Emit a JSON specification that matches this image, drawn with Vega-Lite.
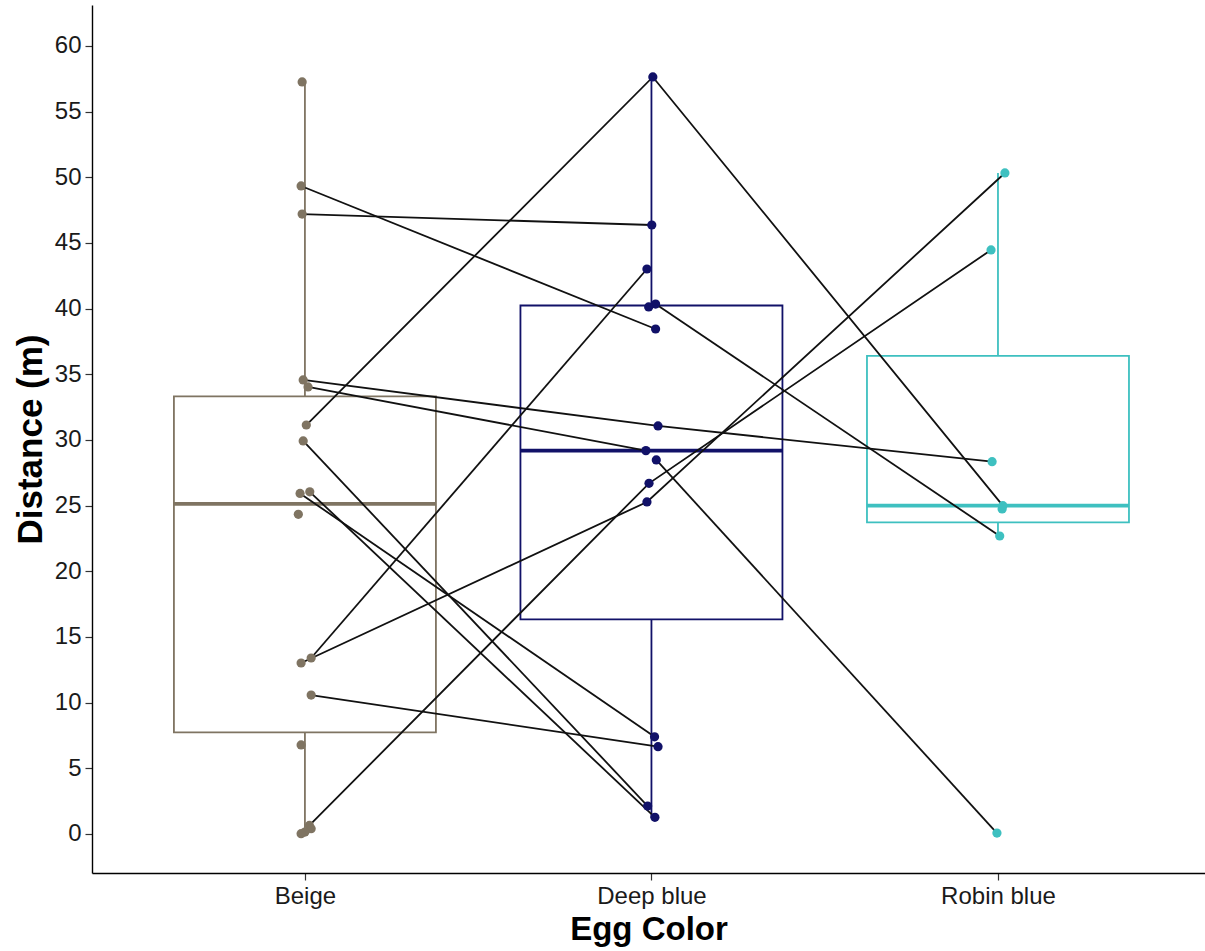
{
  "$schema": "https://vega.github.io/schema/vega-lite/v6.json",
  "width": 1113,
  "height": 868,
  "autosize": "none",
  "padding": {"left": 92, "top": 5, "right": 0, "bottom": 78},
  "background": "white",
  "config": {
    "view": {"stroke": null},
    "font": "Liberation Sans",
    "axis": {
      "grid": false,
      "domainColor": "#000000",
      "domainWidth": 1.4,
      "tickColor": "#333333",
      "tickWidth": 1.2,
      "tickSize": 7,
      "labelFont": "Liberation Sans",
      "labelFontSize": 24,
      "labelColor": "#1a1a1a",
      "labelPadding": 4,
      "titleFont": "Liberation Sans",
      "titleFontSize": 33,
      "titleFontWeight": "bold",
      "titleColor": "#000000"
    }
  },
  "data": {
    "values": [
      {"egg": "Beige", "nest": null, "jit": -0.008, "dist": 57.26},
      {"egg": "Beige", "nest": "n1", "jit": -0.011, "dist": 49.34},
      {"egg": "Beige", "nest": "n2", "jit": -0.008, "dist": 47.2},
      {"egg": "Beige", "nest": "n3", "jit": -0.005, "dist": 34.57},
      {"egg": "Beige", "nest": "n4", "jit": 0.009, "dist": 34.04},
      {"egg": "Beige", "nest": "n5", "jit": 0.004, "dist": 31.14},
      {"egg": "Beige", "nest": "n6", "jit": -0.005, "dist": 29.93},
      {"egg": "Beige", "nest": "n7", "jit": -0.014, "dist": 25.93},
      {"egg": "Beige", "nest": "n8", "jit": 0.014, "dist": 26.05},
      {"egg": "Beige", "nest": null, "jit": -0.019, "dist": 24.34},
      {"egg": "Beige", "nest": "n9", "jit": 0.018, "dist": 13.4},
      {"egg": "Beige", "nest": "n10", "jit": -0.011, "dist": 13.02},
      {"egg": "Beige", "nest": "n11", "jit": 0.018, "dist": 10.58},
      {"egg": "Beige", "nest": null, "jit": -0.011, "dist": 6.78},
      {"egg": "Beige", "nest": "n12", "jit": 0.013, "dist": 0.65},
      {"egg": "Beige", "nest": null, "jit": 0.018, "dist": 0.4},
      {"egg": "Beige", "nest": null, "jit": 0.0, "dist": 0.15},
      {"egg": "Beige", "nest": null, "jit": -0.011, "dist": 0.02},
      {"egg": "Deep blue", "nest": "n5", "jit": 0.004, "dist": 57.64},
      {"egg": "Deep blue", "nest": "n2", "jit": 0.001, "dist": 46.37},
      {"egg": "Deep blue", "nest": "n9", "jit": -0.013, "dist": 43.02},
      {"egg": "Deep blue", "nest": "n13", "jit": 0.012, "dist": 40.35},
      {"egg": "Deep blue", "nest": null, "jit": -0.008, "dist": 40.13},
      {"egg": "Deep blue", "nest": "n1", "jit": 0.012, "dist": 38.45},
      {"egg": "Deep blue", "nest": "n3", "jit": 0.019, "dist": 31.07},
      {"egg": "Deep blue", "nest": "n4", "jit": -0.016, "dist": 29.19},
      {"egg": "Deep blue", "nest": "n14", "jit": 0.014, "dist": 28.48},
      {"egg": "Deep blue", "nest": "n12", "jit": -0.007, "dist": 26.7},
      {"egg": "Deep blue", "nest": "n10", "jit": -0.013, "dist": 25.28},
      {"egg": "Deep blue", "nest": "n7", "jit": 0.009, "dist": 7.4},
      {"egg": "Deep blue", "nest": "n11", "jit": 0.019, "dist": 6.65},
      {"egg": "Deep blue", "nest": "n6", "jit": -0.011, "dist": 2.13},
      {"egg": "Deep blue", "nest": "n8", "jit": 0.01, "dist": 1.27},
      {"egg": "Robin blue", "nest": "n10", "jit": 0.02, "dist": 50.33},
      {"egg": "Robin blue", "nest": "n12", "jit": -0.02, "dist": 44.47},
      {"egg": "Robin blue", "nest": "n3", "jit": -0.017, "dist": 28.35},
      {"egg": "Robin blue", "nest": "n5", "jit": 0.014, "dist": 25.0},
      {"egg": "Robin blue", "nest": null, "jit": 0.012, "dist": 24.75},
      {"egg": "Robin blue", "nest": "n13", "jit": 0.005, "dist": 22.69},
      {"egg": "Robin blue", "nest": "n14", "jit": -0.003, "dist": 0.07}
    ]
  },
  "transform": [
    {"calculate": "indexof(['Beige','Deep blue','Robin blue'], datum.egg) + 1", "as": "ci"},
    {"calculate": "datum.ci + datum.jit", "as": "xp"}
  ],
  "layer": [
    {
      "transform": [
        {"joinaggregate": [{"op": "q1", "field": "dist", "as": "q1"}, {"op": "q3", "field": "dist", "as": "q3"}], "groupby": ["egg"]},
        {"filter": "datum.dist >= datum.q1 - 1.5 * (datum.q3 - datum.q1) && datum.dist <= datum.q3 + 1.5 * (datum.q3 - datum.q1)"},
        {"aggregate": [
          {"op": "min", "field": "dist", "as": "wlo"},
          {"op": "max", "field": "dist", "as": "whi"},
          {"op": "max", "field": "q1", "as": "q1"},
          {"op": "max", "field": "q3", "as": "q3"}
        ], "groupby": ["egg", "ci"]}
      ],
      "layer": [
        {
          "mark": {"type": "rule", "strokeWidth": 1.8},
          "encoding": {
            "x": {
              "field": "ci", "type": "quantitative",
              "scale": {"domain": [0.4, 3.583], "nice": false, "zero": false},
              "axis": {
                "title": "Egg Color",
                "values": [1, 2, 3],
                "labelExpr": "datum.value == 1 ? 'Beige' : datum.value == 2 ? 'Deep blue' : 'Robin blue'",
                "titlePadding": 5
              }
            },
            "y": {
              "field": "wlo", "type": "quantitative",
              "scale": {"domain": [-2.97, 63.12], "nice": false, "zero": false},
              "axis": {
                "title": "Distance (m)",
                "titleFontSize": 35,
                "values": [0, 5, 10, 15, 20, 25, 30, 35, 40, 45, 50, 55, 60],
                "titlePadding": 6
              }
            },
            "y2": {"field": "q1"},
            "color": {"field": "egg", "type": "nominal", "scale": {"domain": ["Beige", "Deep blue", "Robin blue"], "range": ["#7f7462", "#111168", "#3ec0c0"]}, "legend": null}
          }
        },
        {
          "mark": {"type": "rule", "strokeWidth": 1.8},
          "encoding": {
            "x": {"field": "ci", "type": "quantitative"},
            "y": {"field": "q3", "type": "quantitative"},
            "y2": {"field": "whi"},
            "color": {"field": "egg", "type": "nominal", "legend": null}
          }
        }
      ]
    },
    {
      "transform": [
        {"aggregate": [
          {"op": "q1", "field": "dist", "as": "q1"},
          {"op": "median", "field": "dist", "as": "med"},
          {"op": "q3", "field": "dist", "as": "q3"}
        ], "groupby": ["egg", "ci"]}
      ],
      "layer": [
        {
          "mark": {"type": "bar", "size": 262, "fill": "white", "strokeWidth": 1.8},
          "encoding": {
            "x": {"field": "ci", "type": "quantitative"},
            "y": {"field": "q1", "type": "quantitative"},
            "y2": {"field": "q3"},
            "stroke": {"field": "egg", "type": "nominal", "scale": {"domain": ["Beige", "Deep blue", "Robin blue"], "range": ["#7f7462", "#111168", "#3ec0c0"]}, "legend": null}
          }
        },
        {
          "mark": {"type": "tick", "orient": "horizontal", "size": 262, "thickness": 3.6, "opacity": 1},
          "encoding": {
            "x": {"field": "ci", "type": "quantitative"},
            "y": {"field": "med", "type": "quantitative"},
            "color": {"field": "egg", "type": "nominal", "legend": null}
          }
        }
      ]
    },
    {
      "transform": [{"filter": "datum.nest != null"}],
      "mark": {"type": "line", "color": "#111111", "strokeWidth": 1.8},
      "encoding": {
        "x": {"field": "xp", "type": "quantitative"},
        "y": {"field": "dist", "type": "quantitative"},
        "detail": {"field": "nest", "type": "nominal"},
        "order": {"field": "xp", "type": "quantitative"}
      }
    },
    {
      "mark": {"type": "circle", "size": 85, "opacity": 1},
      "encoding": {
        "x": {"field": "xp", "type": "quantitative"},
        "y": {"field": "dist", "type": "quantitative"},
        "color": {"field": "egg", "type": "nominal", "legend": null}
      }
    }
  ]
}
